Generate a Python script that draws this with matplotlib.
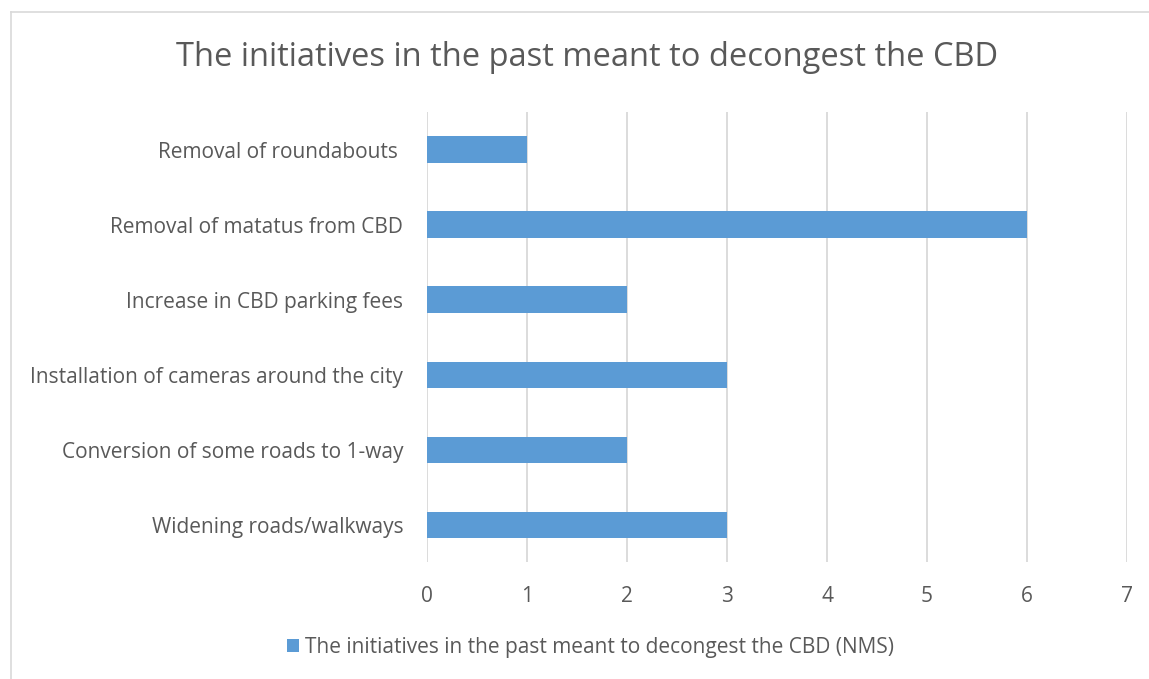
import matplotlib.pyplot as plt
from matplotlib.lines import Line2D

plt.rcParams['font.family'] = ['Open Sans', 'DejaVu Sans']

initiatives = [
    "Widening roads/walkways",
    "Conversion of some roads to 1-way",
    "Installation of cameras around the city",
    "Increase in CBD parking fees",
    "Removal of matatus from CBD",
    "Removal of roundabouts ",
]
counts = [3, 2, 3, 2, 6, 1]
x_ticks = [0, 1, 2, 3, 4, 5, 6, 7]

title = "The initiatives in the past meant to decongest the CBD"
series_name = "The initiatives in the past meant to decongest the CBD (NMS)"

bar_color = "#5b9bd5"
text_color = "#595959"
grid_color = "#d9d9d9"

fig = plt.figure(figsize=(11.49, 6.79), dpi=100)
ax = fig.add_axes([0.3716, 0.172, 0.6093, 0.663])

ax.barh(range(len(initiatives)), counts, height=0.35, color=bar_color,
        label=series_name, zorder=3)

ax.set_xlim(0, 7)
ax.set_ylim(-0.5, len(initiatives) - 0.5)
ax.set_xticks(x_ticks)
ax.set_yticks(range(len(initiatives)))
ax.set_yticklabels(initiatives)
ax.grid(axis="x", color=grid_color, linewidth=1.3, zorder=0)
ax.tick_params(axis="both", length=0, labelsize=15, colors=text_color)
ax.tick_params(axis="y", pad=17)
ax.tick_params(axis="x", pad=17)
for s in ax.spines.values():
    s.set_visible(False)

fig.text(0.5113, 0.915, title, ha="center", va="center", fontsize=23.5,
         color=text_color)

fig.legend(loc="center", bbox_to_anchor=(0.514, 1 - 647 / 679), frameon=False,
           fontsize=15, labelcolor=text_color, handlelength=0.6,
           handleheight=0.6, handletextpad=0.3)

# light chart-area frame along the left and top
fig.add_artist(Line2D([11 / 1149, 11 / 1149], [0, 1 - 12 / 679],
                      transform=fig.transFigure, color=grid_color, lw=1.2))
fig.add_artist(Line2D([11 / 1149, 1], [1 - 12 / 679, 1 - 12 / 679],
                      transform=fig.transFigure, color=grid_color, lw=1.2))

fig.savefig("out.png", dpi=100, facecolor="white")
